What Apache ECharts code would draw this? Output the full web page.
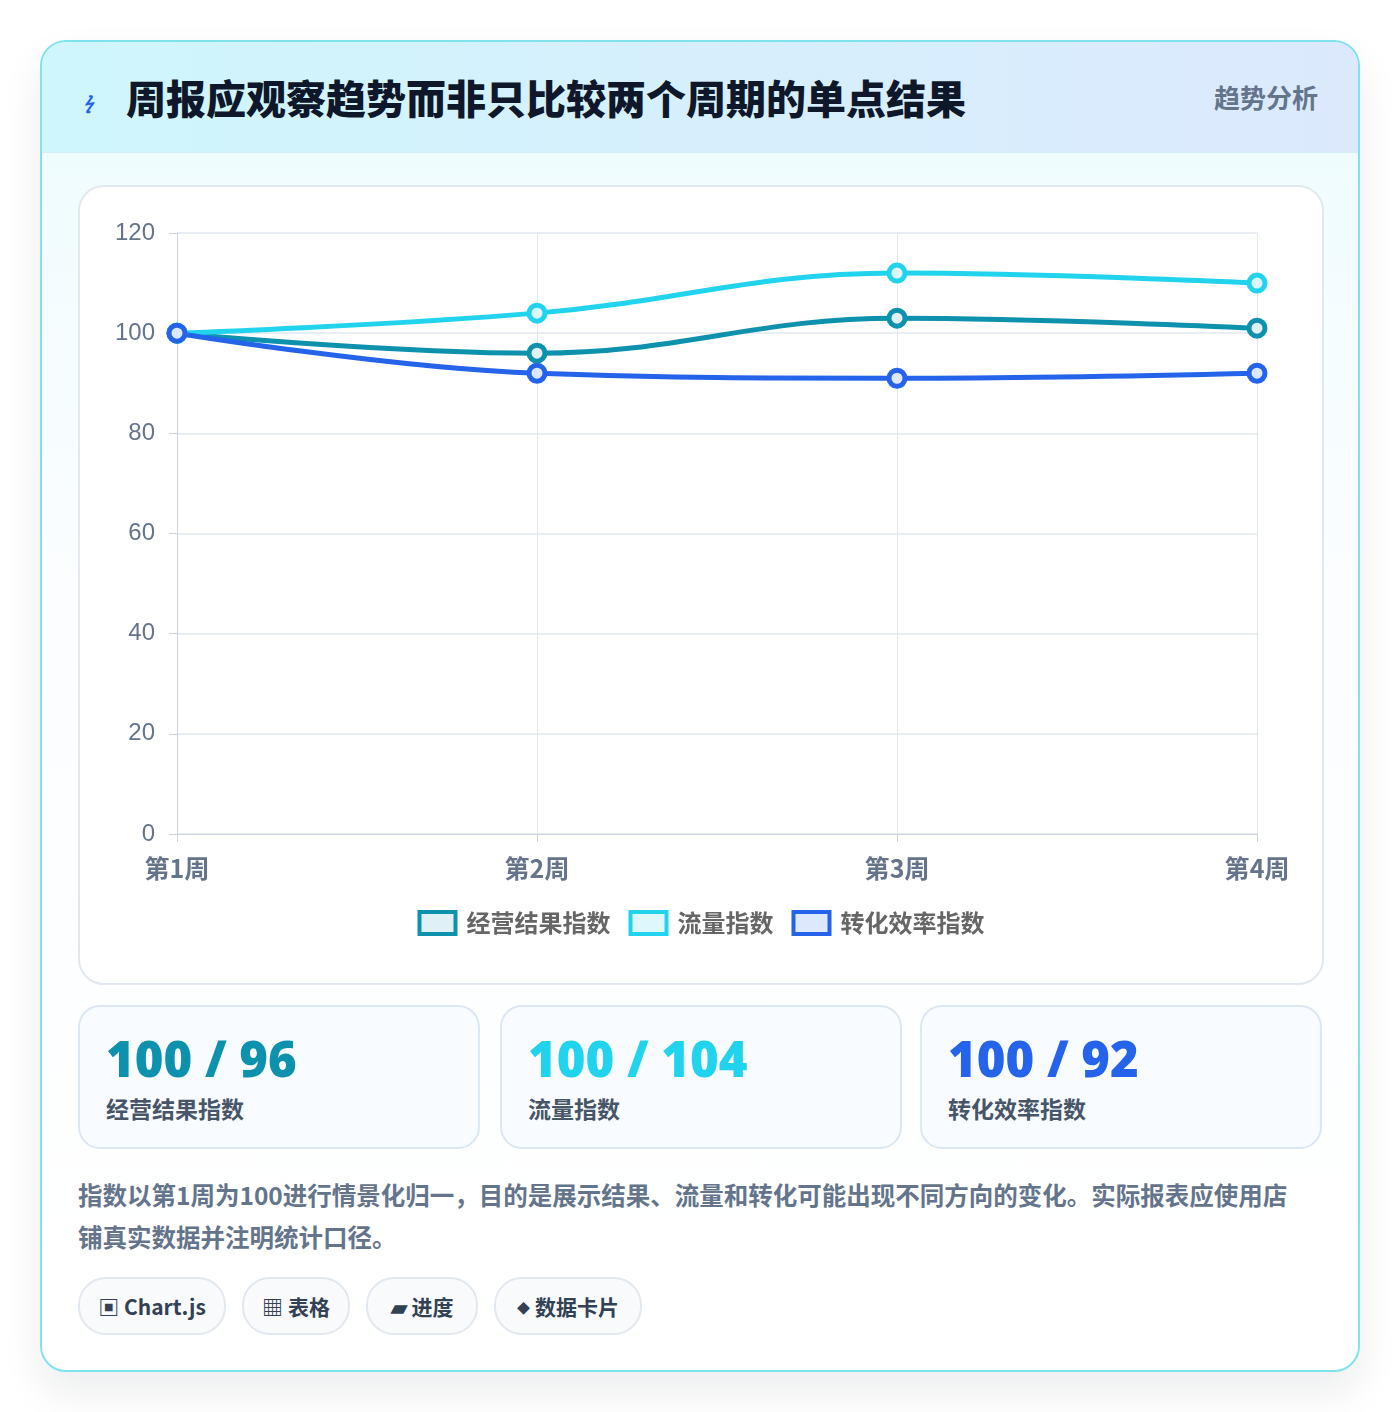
<!DOCTYPE html>
<html><head><meta charset="utf-8">
<script src="https://cdn.jsdelivr.net/npm/echarts@6/dist/echarts.min.js"></script>
<style>
body{margin:0;width:1400px;height:1412px;background:#fff;font-family:"Noto Sans CJK SC","Noto Sans",sans-serif;position:relative;overflow:hidden}
.card{position:absolute;left:40px;top:40px;width:1316px;height:1328px;border:2px solid #7fe3ee;border-radius:26px;background:linear-gradient(180deg,#ecfcfe 0%,#fbfdff 40%,#fff 100%);box-shadow:0 20px 40px rgba(15,23,42,0.08);overflow:hidden}
.hdr{position:absolute;left:0;top:0;width:100%;height:110px;background:linear-gradient(90deg,#cff6fc,#dce9fd);border-bottom:1px solid #d4eef5}
.hdr .t{position:absolute;left:84px;top:26px;font-size:40px;font-weight:900;color:#0f172a}
.hdr .i{position:absolute;left:44px;top:46px;font-size:18px;color:#2563eb;font-weight:700;transform:skewX(-20deg)}
.hdr .r{position:absolute;right:40px;top:36px;font-size:26px;font-weight:700;color:#64748b}
.panel{position:absolute;left:78px;top:185px;width:1242px;height:796px;border:2px solid #e2e8f0;border-radius:26px;background:#fff}
#c{position:absolute;left:0;top:0;width:1242px;height:796px}
.stat{position:absolute;top:1005px;width:398px;height:140px;border:2px solid #dbe7f3;border-radius:22px;background:#f8fbff}
.stat .n{position:absolute;left:26px;top:18px;font-size:49px;font-weight:900;font-family:"Noto Sans","Noto Sans CJK SC",sans-serif}
.stat .l{position:absolute;left:26px;top:84px;font-size:23px;font-weight:700;color:#475569}
.p{position:absolute;left:78px;top:1174px;width:1228px;font-size:24.5px;font-weight:700;color:#64748b;line-height:42px}
.chip{position:absolute;top:1277px;height:54px;border:2px solid #e2e8f0;border-radius:28px;background:#f8fafc;font-size:21px;font-weight:700;color:#334155;line-height:54px;text-align:center}
</style></head><body>
<div class="card">
<div class="hdr"><span class="i">ϟ</span><span class="t">周报应观察趋势而非只比较两个周期的单点结果</span><span class="r">趋势分析</span></div>
</div>
<div class="panel"><div id="c"></div></div>
<div class="stat" style="left:78px"><div class="n" style="color:#0e91ad">100 / 96</div><div class="l">经营结果指数</div></div>
<div class="stat" style="left:500px"><div class="n" style="color:#22d3ee">100 / 104</div><div class="l">流量指数</div></div>
<div class="stat" style="left:920px"><div class="n" style="color:#2563eb">100 / 92</div><div class="l">转化效率指数</div></div>
<div class="p">指数以第1周为100进行情景化归一，目的是展示结果、流量和转化可能出现不同方向的变化。实际报表应使用店铺真实数据并注明统计口径。</div>
<div class="chip" style="left:78px;width:144px">▣ Chart.js</div>
<div class="chip" style="left:242px;width:104px">▦ 表格</div>
<div class="chip" style="left:366px;width:108px">▰ 进度</div>
<div class="chip" style="left:494px;width:144px"><span style="font-size:13px;vertical-align:2px">◆</span> 数据卡片</div>
<script>
const categories=['第1周','第2周','第3周','第4周'];
const seriesNames=['经营结果指数','流量指数','转化效率指数'];
const opValues=[100,96,103,101];
const trafficValues=[100,104,112,110];
const convValues=[100,92,91,92];
const colors=['#0e91ad','#22d3ee','#2563eb'];
const fills=['#dff1f6','#dcf8fc','#dde8fc'];
const vals=[opValues,trafficValues,convValues];
const ch=echarts.init(document.getElementById('c'));
ch.setOption({
animation:false,
grid:{left:97,right:65,top:46,bottom:149},
legend:{bottom:42,left:'center',icon:'rect',itemWidth:36,itemHeight:22,itemGap:18,
 textStyle:{fontSize:24,fontWeight:'bold',color:'#666',fontFamily:'Noto Sans CJK SC',padding:[0,0,0,6]},
 data:seriesNames.map((n,i)=>({name:n,itemStyle:{color:fills[i],borderColor:colors[i],borderWidth:4}}))},
xAxis:{type:'category',data:categories,boundaryGap:false,
 axisLine:{lineStyle:{color:'#cbd5e1'}},axisTick:{show:true,length:8,lineStyle:{color:'#cbd5e1'}},
 splitLine:{show:true,lineStyle:{color:'#e2e8f0'}},
 axisLabel:{fontSize:25,fontWeight:'bold',color:'#64748b',margin:22,fontFamily:'Noto Sans CJK SC'}},
yAxis:{type:'value',min:0,max:120,interval:20,
 axisLine:{show:true,lineStyle:{color:'#cbd5e1'}},axisTick:{show:true,length:8,lineStyle:{color:'#cbd5e1'}},
 splitLine:{lineStyle:{color:'#e2e8f0',width:1.5}},
 axisLabel:{fontSize:24,color:'#64748b',margin:22}},
series:seriesNames.map((n,i)=>({name:n,type:'line',data:vals[i],smooth:0.4,
 lineStyle:{width:5,color:colors[i]},symbol:'circle',symbolSize:16,
 itemStyle:{color:fills[i],borderColor:colors[i],borderWidth:5}}))
});
</script>
</body></html>
